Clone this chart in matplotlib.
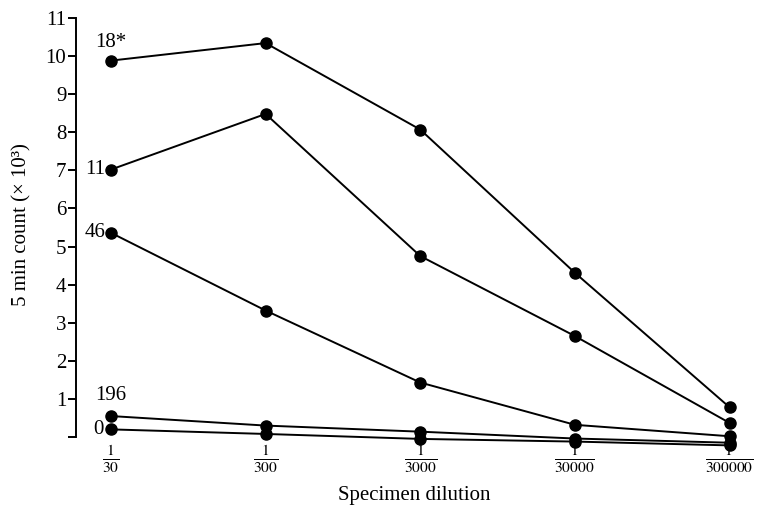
import numpy as np
import matplotlib
matplotlib.use("Agg")
import matplotlib.pyplot as plt

plt.rcParams['font.family'] = ['Liberation Serif', 'DejaVu Serif']
plt.rcParams['mathtext.fontset'] = 'stix'

# dilutions (x categories) and tick labels
dilutions = ['30', '300', '3000', '30000', '300000']
xtick_labels = [r'$\frac{1}{%s}$' % d for d in dilutions]

# 5 min counts (x 10^3), one list per specimen
series_names = ['18*', '11', '46', '196', '0']
counts_18 = [9.88, 10.34, 8.07, 4.31, 0.78]
counts_11 = [7.02, 8.48, 4.75, 2.65, 0.37]
counts_46 = [5.36, 3.32, 1.43, 0.32, 0.02]
counts_196 = [0.55, 0.30, 0.14, -0.04, -0.15]
counts_0 = [0.20, 0.08, -0.05, -0.12, -0.22]
all_counts = [counts_18, counts_11, counts_46, counts_196, counts_0]

# label placement: (dx, dy) in points, ha
label_pos = [((0, 13), 'center'), ((-4, 0), 'right'), ((-4, 0), 'right'),
             ((0, 15), 'center'), ((-5, 0), 'right')]

fig = plt.figure(figsize=(7.57, 5.13), dpi=100)
ax = fig.add_axes([0.1004, 0.137, 0.894, 0.8503])

x = np.arange(len(dilutions))
for name, ys, (off, ha) in zip(series_names, all_counts, label_pos):
    ax.plot(x, ys, color='black', lw=1.4, marker='o', ms=8, clip_on=False)
    ax.annotate(name, (x[0], ys[0]), xytext=off, textcoords='offset points',
                ha=ha, va='center', fontsize=15)

ax.set_xlim(-0.226, 4.15)
ax.set_ylim(-0.15, 11.3)

ax.spines['top'].set_visible(False)
ax.spines['right'].set_visible(False)
ax.spines['bottom'].set_visible(False)
ax.spines['left'].set_bounds(0, 11)
ax.spines['left'].set_linewidth(1.4)

ax.set_yticks(range(12))
ax.set_yticklabels([''] + [str(i) for i in range(1, 12)], fontsize=15)
ax.tick_params(axis='y', direction='out', length=6, width=1.4, pad=1)

ax.set_xticks(x)
ax.set_xticklabels(xtick_labels, fontsize=16)
ax.tick_params(axis='x', length=0, pad=1)

ax.set_ylabel('5 min count (× 10³)', fontsize=15, labelpad=10)
ax.set_xlabel('Specimen dilution', fontsize=15, labelpad=8)

fig.savefig('out.png', dpi=100)
